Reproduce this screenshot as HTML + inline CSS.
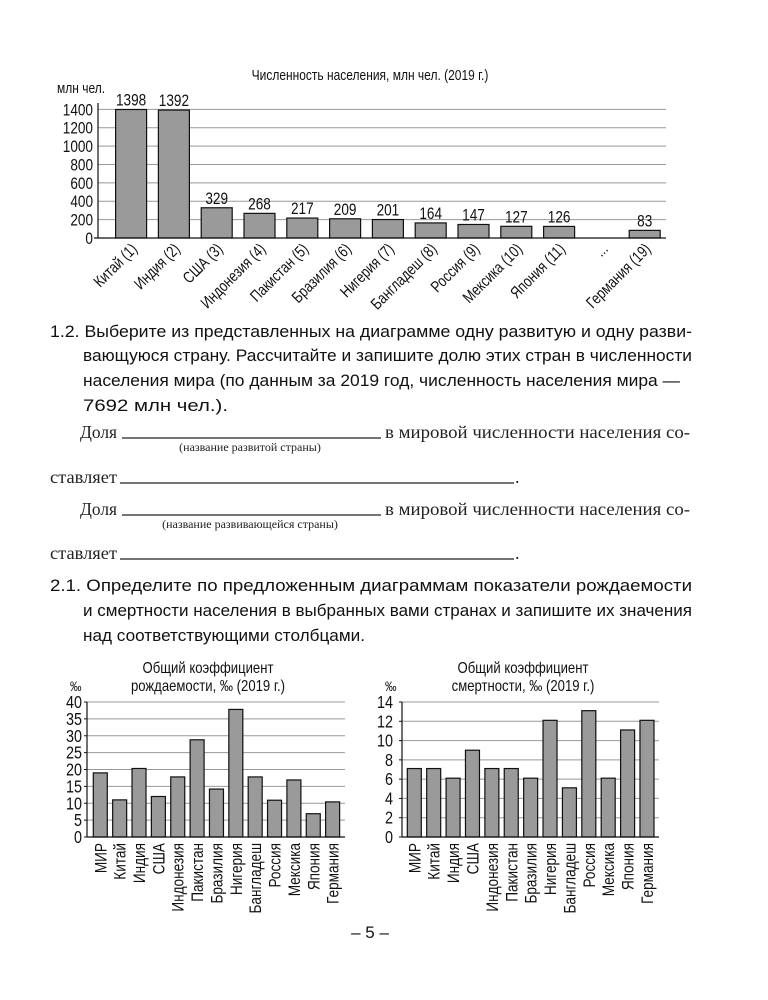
<!DOCTYPE html>
<html><head><meta charset="utf-8">
<style>
html,body{margin:0;padding:0;background:#fff;}
svg{display:block;}
.c{font-family:"Liberation Sans",sans-serif;fill:#111;}
.b{font-family:"Liberation Sans","DejaVu Sans",sans-serif;fill:#111;font-size:17px;}
.s{font-family:"Liberation Serif","DejaVu Serif",serif;fill:#222;}
</style></head><body>
<svg id="g" width="768" height="1000" viewBox="0 0 768 1000" xmlns="http://www.w3.org/2000/svg">
<text class="c" font-size="15" text-anchor="middle" transform="translate(370 80) scale(0.8 1)">Численность населения, млн чел. (2019 г.)</text>
<text class="c" font-size="15" transform="translate(57 93) scale(0.8 1)">млн чел.</text>

<text class="b" x="50" y="337" textLength="642" lengthAdjust="spacingAndGlyphs">1.2. Выберите из представленных на диаграмме одну развитую и одну разви-</text>
<text class="b" x="83" y="361" textLength="609" lengthAdjust="spacingAndGlyphs">вающуюся страну. Рассчитайте и запишите долю этих стран в численности</text>
<text class="b" x="83" y="386" textLength="597" lengthAdjust="spacingAndGlyphs">населения мира (по данным за 2019 год, численность населения мира —</text>
<text class="b" x="83" y="411" textLength="145" lengthAdjust="spacingAndGlyphs">7692 млн чел.).</text>

<text class="s" x="80" y="438" font-size="18" textLength="37" lengthAdjust="spacingAndGlyphs">Доля</text>
<line x1="122" y1="438" x2="381" y2="438" stroke="#222" stroke-width="1.3"/>
<text class="s" x="385" y="438" font-size="18" textLength="305" lengthAdjust="spacingAndGlyphs">в мировой численности населения со-</text>
<text class="s" x="250" y="451" font-size="12" text-anchor="middle">(название развитой страны)</text>
<text class="s" x="50" y="483" font-size="18" textLength="67" lengthAdjust="spacingAndGlyphs">ставляет</text>
<line x1="120" y1="483" x2="514" y2="483" stroke="#222" stroke-width="1.3"/>
<text class="s" x="515" y="483" font-size="18">.</text>

<text class="s" x="80" y="515" font-size="18" textLength="37" lengthAdjust="spacingAndGlyphs">Доля</text>
<line x1="122" y1="515" x2="381" y2="515" stroke="#222" stroke-width="1.3"/>
<text class="s" x="385" y="515" font-size="18" textLength="305" lengthAdjust="spacingAndGlyphs">в мировой численности населения со-</text>
<text class="s" x="250" y="528" font-size="12" text-anchor="middle">(название развивающейся страны)</text>
<text class="s" x="50" y="559" font-size="18" textLength="67" lengthAdjust="spacingAndGlyphs">ставляет</text>
<line x1="120" y1="559" x2="514" y2="559" stroke="#222" stroke-width="1.3"/>
<text class="s" x="515" y="559" font-size="18">.</text>

<text class="b" x="50" y="591" textLength="642" lengthAdjust="spacingAndGlyphs">2.1. Определите по предложенным диаграммам показатели рождаемости</text>
<text class="b" x="83" y="616" textLength="609" lengthAdjust="spacingAndGlyphs">и смертности населения в выбранных вами странах и запишите их значения</text>
<text class="b" x="83" y="641" textLength="282" lengthAdjust="spacingAndGlyphs">над соответствующими столбцами.</text>

<text class="c" font-size="16" text-anchor="middle" transform="translate(208 673) scale(0.82 1)">Общий коэффициент</text>
<text class="c" font-size="16" text-anchor="middle" transform="translate(208 691) scale(0.82 1)">рождаемости, ‰ (2019 г.)</text>
<text class="c" font-size="14" transform="translate(70 691) scale(0.82 1)">‰</text>
<text class="c" font-size="16" text-anchor="middle" transform="translate(523 673) scale(0.82 1)">Общий коэффициент</text>
<text class="c" font-size="16" text-anchor="middle" transform="translate(523 691) scale(0.82 1)">смертности, ‰ (2019 г.)</text>
<text class="c" font-size="14" transform="translate(385 691) scale(0.82 1)">‰</text>

<text class="b" x="370" y="938" font-size="17" text-anchor="middle">– 5 –</text>
</svg>
<script>
var g=document.getElementById('g'),NS='http://www.w3.org/2000/svg';
function el(t,a,txt){var e=document.createElementNS(NS,t);for(var k in a)e.setAttribute(k,a[k]);if(txt!==undefined)e.textContent=txt;g.appendChild(e);return e;}
function tx(x,y,s,anchor,txt,rot){var tr='translate('+x+' '+y+')'+(rot?' rotate('+rot+')':'')+' scale(0.8 1)';
 return el('text',{class:'c','font-size':s,'text-anchor':anchor,transform:tr},txt);}
// top chart
for(var i=0;i<=7;i++){var y=238-i*18.38;
 if(i>0)el('line',{x1:98,y1:y,x2:666,y2:y,stroke:'#999','stroke-width':1});
 tx(93,y+6,17,'end',String(i*200));}
var tv=[1398,1392,329,268,217,209,201,164,147,127,126,null,83];
var tn=['Китай (1)','Индия (2)','США (3)','Индонезия (4)','Пакистан (5)','Бразилия (6)','Нигерия (7)','Бангладеш (8)','Россия (9)','Мексика (10)','Япония (11)','...','Германия (19)'];
for(var i=0;i<13;i++){var x=115.6+42.8*i,cx=x+15.5;
 if(tv[i]!==null){var yt=238-tv[i]*0.0919;
  el('rect',{x:x,y:yt,width:31,height:238-yt,fill:'#9a9a9a',stroke:'#111','stroke-width':1.2});
  tx(cx,yt-4,17,'middle',String(tv[i]));}
 tx(cx+7,250,16,'end',tn[i],-45);}
el('line',{x1:98,y1:103,x2:98,y2:238,stroke:'#111','stroke-width':1.2});
el('line',{x1:94,y1:238,x2:666,y2:238,stroke:'#111','stroke-width':1.2});
// bottom charts
var names=['МИР','Китай','Индия','США','Индонезия','Пакистан','Бразилия','Нигерия','Бангладеш','Россия','Мексика','Япония','Германия'];
function small(ax,x0,step,gx2,max,tick,vals,lx){
 var n=max/tick,ps=135/n;
 for(var i=0;i<=n;i++){var y=837-i*ps;
  if(i>0)el('line',{x1:ax,y1:y,x2:gx2,y2:y,stroke:'#999','stroke-width':1});
  el('line',{x1:ax-3,y1:y,x2:ax,y2:y,stroke:'#111','stroke-width':1});
  tx(lx,y+6,18,'end',String(i*tick));}
 for(var i=0;i<13;i++){var x=x0+step*i,yt=837-vals[i]*135/max;
  el('rect',{x:x,y:yt,width:14,height:837-yt,fill:'#9a9a9a',stroke:'#111','stroke-width':1.2});
  tx(x+7+6,843,17,'end',names[i],-90);}
 el('line',{x1:ax,y1:702,x2:ax,y2:837,stroke:'#111','stroke-width':1.2});
 el('line',{x1:ax,y1:837,x2:gx2,y2:837,stroke:'#111','stroke-width':1.2});
}
small(87,93.3,19.36,345,40,5,[19,11,20.3,12,17.8,28.8,14.2,37.8,17.8,10.9,16.9,6.9,10.4],82);
small(402,407.3,19.39,659,14,2,[7.1,7.1,6.1,9,7.1,7.1,6.1,12.1,5.1,13.1,6.1,11.1,12.1],393);
</script>
</body></html>
